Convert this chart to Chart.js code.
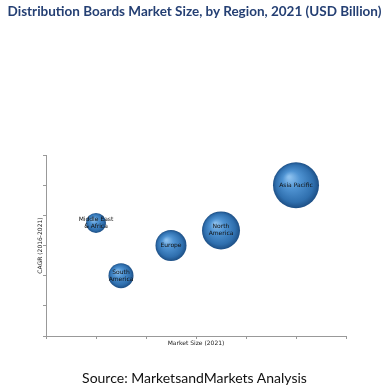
<!DOCTYPE html>
<html>
<head>
<meta charset="utf-8">
<script src="https://cdn.jsdelivr.net/npm/chart.js@4/dist/chart.umd.min.js"></script>
<style>
    html, body { margin: 0; padding: 0; background: #fff; }
    #wrap { position: relative; width: 389px; height: 389px; overflow: hidden; }
    #title { position: absolute; left: 0; top: 3px; width: 389px; text-align: center; font: bold 13.5px Lato, sans-serif; color: #243f73; white-space: nowrap; }
    #source { position: absolute; left: 0; top: 369px; width: 389px; text-align: center; font: 14px Lato, sans-serif; color: #111; white-space: nowrap; }
    canvas { position: absolute; left: 0; top: 0; }
</style>
</head>
<body>
<div id="wrap">
    <canvas id="chart" width="389" height="389"></canvas>
    <div id="title">Distribution Boards Market Size, by Region, 2021 (USD Billion)</div>
    <div id="source">Source: MarketsandMarkets Analysis</div>
</div>
<script>
// data (axes have no tick labels, units are tick steps)
const regions = ['Middle East & Africa', 'South America', 'Europe', 'North America', 'Asia Pacific'];
const labelLines = [['Middle East', '& Africa'], ['South', 'America'], ['Europe'], ['North', 'America'], ['Asia Pacific']];
const marketSize = [1.0, 1.5, 2.5, 3.5, 5.0];
const cagr = [3.75, 2.0, 3.0, 3.5, 5.0];
const bubbleSize = [10, 12.5, 15.5, 19, 23];

const points = regions.map((r, i) => ({ x: marketSize[i], y: cagr[i], r: bubbleSize[i] }));

function sphereFill(context) {
    const chart = context.chart;
    const raw = context.raw;
    if (!raw || !chart.chartArea) return '#3a7ebf';
    const cx = chart.scales.x.getPixelForValue(raw.x);
    const cy = chart.scales.y.getPixelForValue(raw.y);
    const r = raw.r;
    const g = chart.ctx.createRadialGradient(cx - r * 0.3, cy - r * 0.35, r * 0.05, cx, cy, r);
    g.addColorStop(0, '#8cc0ee');
    g.addColorStop(0.35, '#4f93d2');
    g.addColorStop(0.8, '#2f6fae');
    g.addColorStop(1, '#1d4f85');
    return g;
}

// labels drawn inside the bubbles
const bubbleLabels = {
    id: 'bubbleLabels',
    afterDatasetsDraw(chart) {
        const ctx = chart.ctx;
        const meta = chart.getDatasetMeta(0);
        ctx.save();
        ctx.font = '6px "DejaVu Sans", sans-serif';
        ctx.fillStyle = '#111';
        ctx.textAlign = 'center';
        ctx.textBaseline = 'middle';
        meta.data.forEach((el, i) => {
            const lines = labelLines[i];
            const lh = 7;
            lines.forEach((line, j) => {
                ctx.fillText(line, el.x, el.y + (j - (lines.length - 1) / 2) * lh);
            });
        });
        ctx.restore();
    }
};

// axis titles drawn by hand so the plot area stays where it is
const axisTitles = {
    id: 'axisTitles',
    afterDraw(chart) {
        const ctx = chart.ctx;
        const a = chart.chartArea;
        ctx.save();
        ctx.font = '6px "DejaVu Sans", sans-serif';
        ctx.fillStyle = '#222';
        ctx.textAlign = 'center';
        ctx.textBaseline = 'middle';
        ctx.fillText('Market Size (2021)', (a.left + a.right) / 2, a.bottom + 7);
        ctx.translate(a.left - 6, (a.top + a.bottom) / 2);
        ctx.rotate(-Math.PI / 2);
        ctx.fillText('CAGR (2016-2021)', 0, 0);
        ctx.restore();
    }
};

const axisStyle = {
    display: true,
    min: 0,
    max: 6,
    ticks: { display: false, stepSize: 1 },
    grid: { drawOnChartArea: false, drawTicks: true, tickLength: 3, color: '#999' },
    border: { display: true, color: '#999', width: 1 }
};

new Chart(document.getElementById('chart'), {
    type: 'bubble',
    data: {
        datasets: [{
            label: 'Regions',
            data: points,
            backgroundColor: sphereFill,
            borderWidth: 0,
            hoverRadius: 0
        }]
    },
    options: {
        responsive: false,
        animation: false,
        layout: { padding: { left: 43, right: 43, top: 155, bottom: 50 } },
        plugins: { legend: { display: false }, tooltip: { enabled: false } },
        scales: {
            x: { ...axisStyle, type: 'linear' },
            y: { ...axisStyle, type: 'linear' }
        }
    },
    plugins: [bubbleLabels, axisTitles]
});
</script>
</body>
</html>
